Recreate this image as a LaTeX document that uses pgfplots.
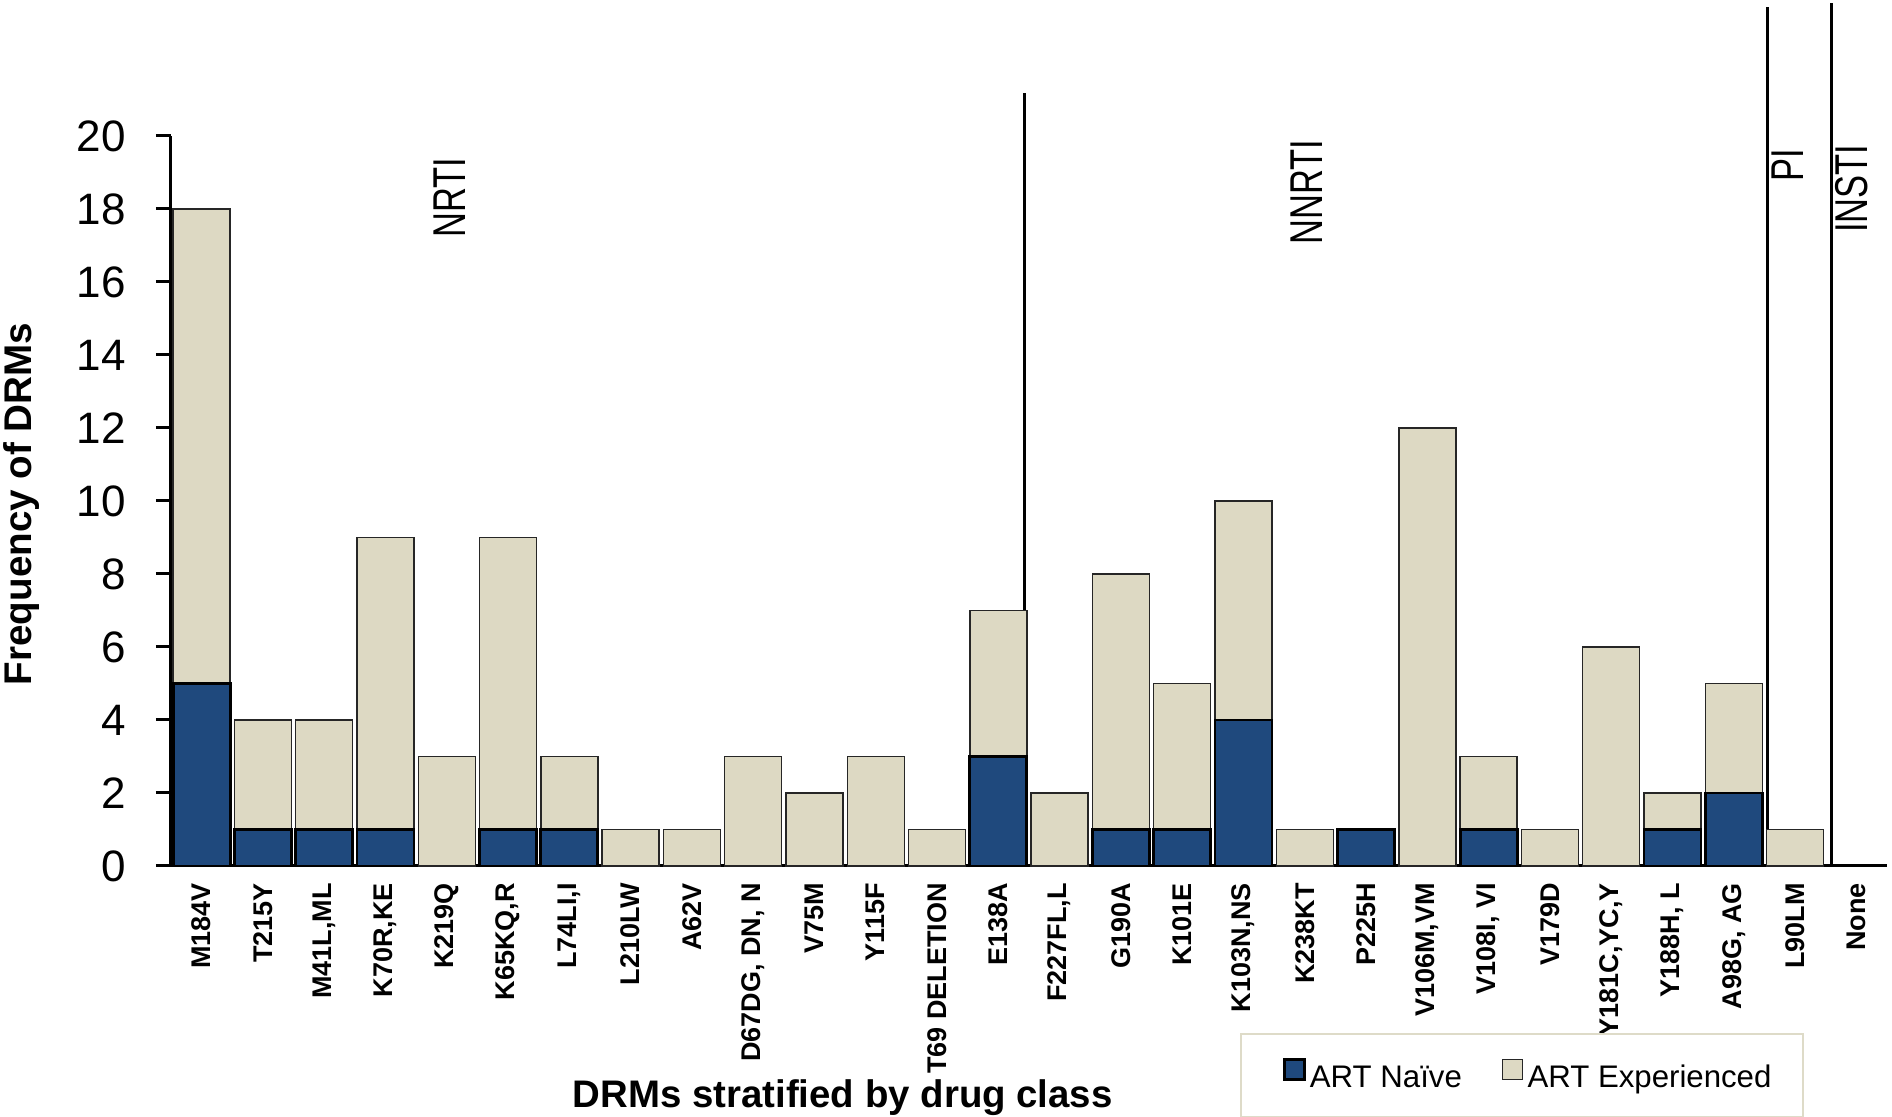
\documentclass[border=0pt]{standalone}
\usepackage{fontspec}
\setmainfont{Liberation Sans}
\usepackage{graphicx}
\usepackage{pgfplots}
\usepackage{pgfplotstable}
\pgfplotsset{compat=1.18}
\definecolor{naive}{HTML}{1F497D}
\definecolor{exper}{HTML}{DDD9C3}
\definecolor{legbord}{HTML}{DEDBC8}

\pgfplotstableread{
x naive exp
0 5 13
1 1 3
2 1 3
3 1 8
4 0 3
5 1 8
6 1 2
7 0 1
8 0 1
9 0 3
10 0 2
11 0 3
12 0 1
13 3 4
14 0 2
15 1 7
16 1 4
17 4 6
18 0 1
19 1 0
20 0 12
21 1 2
22 0 1
23 0 6
24 1 1
25 2 3
26 0 1
27 0 0
}\datatable

\begin{document}
\begin{tikzpicture}
\begin{axis}[
  scale only axis, width=858pt, height=365pt,
  xmin=-0.5, xmax=27.5, ymin=0, ymax=20,
  ybar stacked, bar width=0.93,
  axis x line=bottom, axis y line=left,
  axis line style={-, line width=1.5pt},
  clip=false,
  xtick={0,...,27},
  xticklabels={{M184V},{T215Y},{M41L,ML},{K70R,KE},{K219Q},{K65KQ,R},{L74LI,I},{L210LW},{A62V},{D67DG, DN, N},{V75M},{Y115F},{T69 DELETION},{E138A},{F227FL,L},{G190A},{K101E},{K103N,NS},{K238KT},{P225H},{V106M,VM},{V108I, VI},{V179D},{Y181C,YC,Y},{Y188H, L},{A98G, AG},{L90LM},{None}},
  xtick style={draw=none},
  ytick={0,2,...,20},
  tick align=outside, major tick length=7.5pt,
  ytick style={line width=1.5pt, black},
  xticklabel style={rotate=90, anchor=east, inner sep=0pt, font=\bfseries\fontsize{13.5}{13.5}\selectfont},
  xticklabel shift=1pt,
  yticklabel style={anchor=east, inner sep=0pt, font=\fontsize{22}{22}\selectfont},
  yticklabel shift=15pt,
  /pgf/number format/assume math mode=true,
  ylabel={Frequency of DRMs},
  ylabel style={at={(axis description cs:-0.0815,0.4959)}, anchor=base, inner sep=0pt, font=\bfseries\fontsize{19.3}{19.3}\selectfont},
  xlabel={DRMs stratified by drug class},
  xlabel style={at={(axis description cs:0.3915,-0.3305)}, anchor=base, inner sep=0pt, font=\bfseries\fontsize{19.2}{19.2}\selectfont},
  legend columns=2,
  legend image code/.code={\path (-5pt,0pt); \draw[#1] (0pt,0pt) rectangle (10pt,10pt);},
  legend style={at={(axis description cs:0.6228,-0.2288)}, anchor=north west,
    draw=legbord, line width=1pt, inner xsep=16pt, inner ysep=12pt,
    font=\fontsize{15.6}{15.6}\selectfont,
    nodes={inner sep=0pt, text height=11pt, text depth=3pt},
    /tikz/every even column/.append style={column sep=14.9pt},
    /tikz/every odd column/.append style={column sep=2.2pt}},
]
\addplot[fill=naive, draw=black, line width=1.4pt] table[x=x, y=naive] {\datatable};
\addplot[fill=exper, draw=black!85, line width=0.7pt] table[x=x, y=exp] {\datatable};
\legend{ART Naïve, ART Experienced}

\draw[line width=1.6pt] (axis cs:13.43,0) -- (axis cs:13.43,21.18);
\draw[line width=1.6pt] (axis cs:25.55,0) -- (axis cs:25.55,23.53);
\draw[line width=1.6pt] (axis cs:26.6,0) -- (axis cs:26.6,23.64);

\node[rotate=90, anchor=west, inner sep=0pt, font=\fontsize{23}{23}\selectfont] at (axis cs:4.051,17.21) {\scalebox{0.75}[1]{NRTI}};
\node[rotate=90, anchor=west, inner sep=0pt, font=\fontsize{23}{23}\selectfont] at (axis cs:18.03,17.01) {\scalebox{0.75}[1]{NNRTI}};
\node[rotate=90, anchor=west, inner sep=0pt, font=\fontsize{23}{23}\selectfont] at (axis cs:25.88,18.74) {\scalebox{0.75}[1]{PI}};
\node[rotate=90, anchor=west, inner sep=0pt, font=\fontsize{23}{23}\selectfont] at (axis cs:26.92,17.34) {\scalebox{0.75}[1]{INSTI}};
\end{axis}
\pgfresetboundingbox
\path[use as bounding box] (-85.5pt,-125.5pt) rectangle (860.5pt,433pt);
\end{tikzpicture}
\end{document}
